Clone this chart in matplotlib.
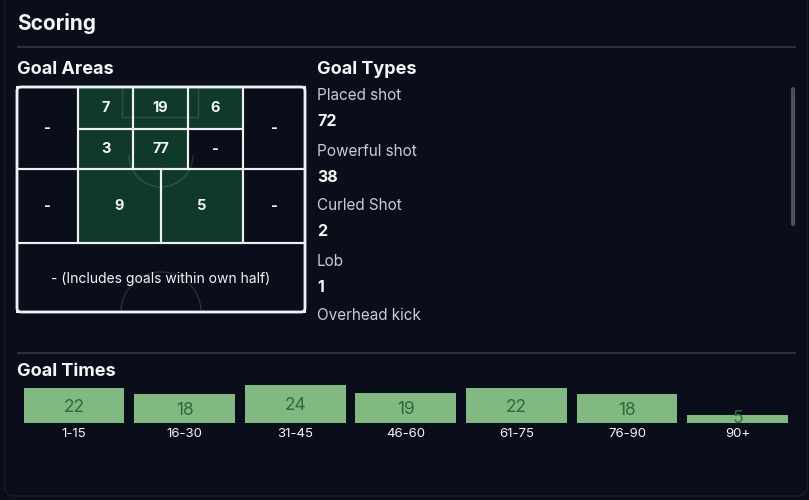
import matplotlib
matplotlib.use("Agg")
import matplotlib.pyplot as plt
from matplotlib.patches import Rectangle, FancyBboxPatch, Arc

# ---------------- data ----------------
zone_names = ["left_upper", "six_left", "six_centre", "six_right",
              "box_left", "box_centre", "box_right", "right_upper",
              "left_lower", "edge_left", "edge_right", "right_lower", "own_half"]
zone_goals = [None, 7, 19, 6, 3, 77, None, None, None, 9, 5, None, None]
own_half_note = "(Includes goals within own half)"

goal_types = ["Placed shot", "Powerful shot", "Curled Shot", "Lob", "Overhead kick"]
goal_type_counts = [72, 38, 2, 1, None]   # last value hidden below scroll

time_bins = ["1-15", "16-30", "31-45", "46-60", "61-75", "76-90", "90+"]
time_goals = [22, 18, 24, 19, 22, 18, 5]

# ---------------- style / layout ----------------
BG = "#0a0e1a"
GREEN_CELL = "#0f3a2a"
LINE = "#eef0f2"
SEP = "#2a2f3e"
BAR = "#82b882"
BAR_TXT = "#2f6a37"
LABEL = "#c9ccd3"
WHITE = "#f4f5f7"
FONT = "Inter"

zone_boxes = {  # pixel boxes (x0, y0, x1, y1)
    "left_upper": (17, 87, 78, 169), "six_left": (78, 87, 133, 129),
    "six_centre": (133, 87, 188, 129), "six_right": (188, 87, 243, 129),
    "box_left": (78, 129, 133, 169), "box_centre": (133, 129, 188, 169),
    "box_right": (188, 129, 243, 169), "right_upper": (243, 87, 305, 169),
    "left_lower": (17, 169, 78, 243), "edge_left": (78, 169, 161, 243),
    "edge_right": (161, 169, 243, 243), "right_lower": (243, 169, 305, 243),
    "own_half": (17, 243, 305, 312),
}

plt.rcParams['font.family'] = [FONT, 'DejaVu Sans']

fig = plt.figure(figsize=(8.09, 5.0), dpi=100, facecolor=BG)
ax = fig.add_axes([0, 0, 1, 1])
ax.set_xlim(0, 809)
ax.set_ylim(500, 0)
ax.axis("off")
ax.set_facecolor(BG)

# card border
ax.add_patch(FancyBboxPatch((5, -20), 802, 516, boxstyle="round,pad=0,rounding_size=10",
                            facecolor=BG, edgecolor="#181c2a", lw=1.2, zorder=0))

# titles
ax.text(17, 24, "Scoring", color=WHITE, fontsize=15, fontweight="bold", va="center", ha="left")
ax.plot([17, 796], [47, 47], color=SEP, lw=1.6, solid_capstyle="butt")
ax.text(17, 69, "Goal Areas", color=WHITE, fontsize=13, fontweight="bold", va="center", ha="left")
ax.text(317, 69, "Goal Types", color=WHITE, fontsize=13, fontweight="bold", va="center", ha="left")

# ---------------- pitch ----------------
for name, val in zip(zone_names, zone_goals):
    x0, y0, x1, y1 = zone_boxes[name]
    fc = GREEN_CELL if val is not None else BG
    ax.add_patch(Rectangle((x0, y0), x1 - x0, y1 - y0, facecolor=fc, edgecolor="none", zorder=1))

# faint pitch markings
mark = dict(color="#ffffff", alpha=0.13, lw=1.0, zorder=2)
ax.plot([122, 122, 198, 198], [87, 117, 117, 87], **mark)
ax.add_patch(Arc((161, 155), 64, 64, theta1=0, theta2=180, edgecolor="#ffffff", alpha=0.13, lw=1.0, zorder=2))
ax.add_patch(Arc((161, 312), 80, 80, theta1=180, theta2=360, edgecolor="#ffffff", alpha=0.13, lw=1.0, zorder=2))

for name, val in zip(zone_names, zone_goals):
    x0, y0, x1, y1 = zone_boxes[name]
    ax.add_patch(Rectangle((x0, y0), x1 - x0, y1 - y0, facecolor="none", edgecolor=LINE, lw=1.5, zorder=3))
    cx, cy = (x0 + x1) / 2, (y0 + y1) / 2
    txt = "-" if val is None else str(val)
    if name == "own_half":
        ax.text(cx, cy + 1, txt + " " + own_half_note, color=WHITE, fontsize=10,
                ha="center", va="center", zorder=4)
    else:
        ax.text(cx, cy, txt, color=WHITE, fontsize=10.5, fontweight="bold",
                ha="center", va="center", zorder=4)

ax.add_patch(FancyBboxPatch((17, 87), 288, 225, boxstyle="round,pad=0,rounding_size=4",
                            facecolor="none", edgecolor=LINE, lw=2.0, zorder=5))

# ---------------- goal types ----------------
y = 96
for lab, cnt in zip(goal_types, goal_type_counts):
    ax.text(317, y, lab, color=LABEL, fontsize=11, ha="left", va="center")
    if cnt is not None:
        ax.text(317, y + 26, str(cnt), color=WHITE, fontsize=11.5, fontweight="bold", ha="left", va="center")
    y += 55

# scrollbar
ax.plot([793, 793], [89, 224], color="#4b5061", lw=3, solid_capstyle="round")

# ---------------- goal times ----------------
ax.plot([17, 796], [353, 353], color=SEP, lw=1.6, solid_capstyle="butt")
ax.text(17, 372, "Goal Times", color=WHITE, fontsize=13, fontweight="bold", va="center", ha="left")

slot = 110.6
left_px = 74 - slot / 2
px_per_goal = 1.59
ymax = 30
axb = fig.add_axes([left_px / 809, (500 - 423) / 500, slot * 7 / 809, ymax * px_per_goal / 500])
axb.set_xlim(-0.5, 6.5)
axb.set_ylim(0, ymax)
axb.axis("off")
xs = list(range(len(time_bins)))
bars = axb.bar(xs, time_goals, width=0.91, color=BAR, edgecolor="none")
min_text_y = 4.4  # value label never sits lower than this (in goal units)
for x, v, b, lab in zip(xs, time_goals, bars, time_bins):
    t = axb.text(x, max(v / 2, min_text_y), str(v), color=BAR_TXT, fontsize=12.5,
                 ha="center", va="center_baseline")
    t.set_clip_path(b)
    axb.annotate(lab, (x, 0), xytext=(0, -11), textcoords="offset pixels",
                 color=WHITE, fontsize=9.5, ha="center", va="center", annotation_clip=False)

fig.savefig("out.png", dpi=100, facecolor=BG)
